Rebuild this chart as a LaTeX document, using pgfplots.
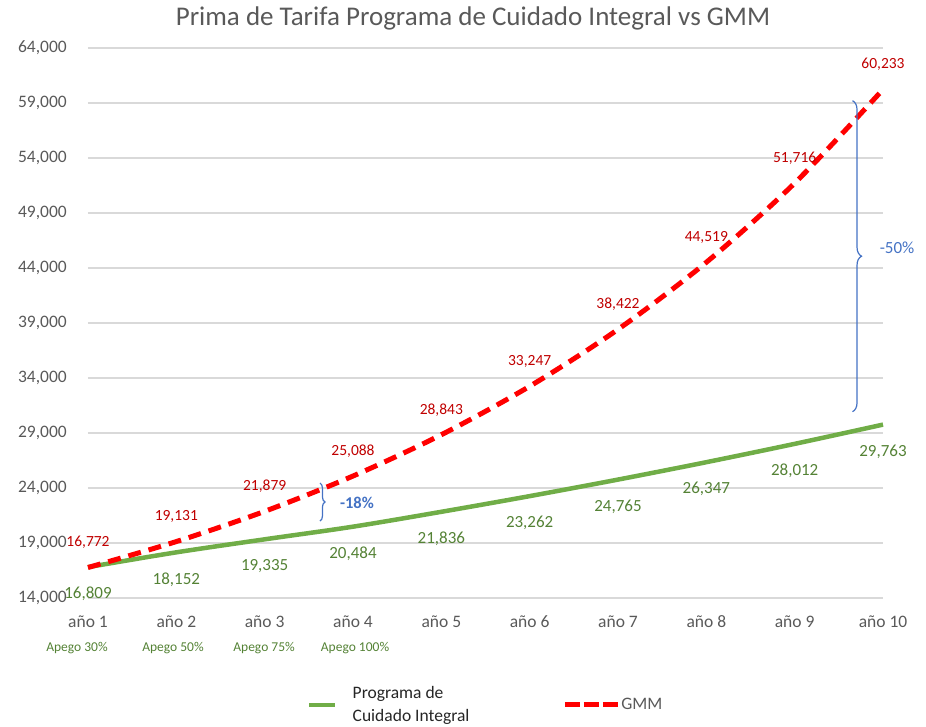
\documentclass[border=0pt]{standalone}
\usepackage{pgfplots}
\pgfplotsset{compat=1.18}
\usepackage{fontspec}
\setmainfont{Carlito}
\usetikzlibrary{decorations.pathreplacing}
\definecolor{gridgray}{HTML}{D9D9D9}
\definecolor{txtgray}{HTML}{595959}
\definecolor{darkgray}{HTML}{262626}
\definecolor{gmmred}{HTML}{FF0000}
\definecolor{lblred}{HTML}{C00000}
\definecolor{pcigreen}{HTML}{70AD47}
\definecolor{lblgreen}{HTML}{548235}
\definecolor{brblue}{HTML}{4472C4}
\pgfplotsset{
  legshort/.style={legend image code/.code={\draw[##1] (0pt,0pt) -- (26pt,0pt);}},
  leglong/.style={legend image code/.code={\draw[##1, dash pattern=on 15pt off 4pt] (0pt,0pt) -- (53pt,0pt);}},
}
\begin{document}
\begin{tikzpicture}[x=1pt,y=1pt]
\path[use as bounding box] (-88,-128) rectangle (838,598);
\begin{axis}[
  at={(0,0)}, anchor=south west,
  scale only axis, width=795pt, height=550pt,
  xmin=1, xmax=10, ymin=14000, ymax=64000,
  axis line style={draw=none},
  xtick={1,2,3,4,5,6,7,8,9,10},
  xticklabels={año 1,año 2,año 3,año 4,año 5,año 6,año 7,año 8,año 9,año 10},
  ytick={14000,19000,24000,29000,34000,39000,44000,49000,54000,59000,64000},
  scaled y ticks=false,
  yticklabel={\pgfmathprintnumber[assume math mode=true,1000 sep={,}]{\tick}},
  major tick length=0pt,
  ymajorgrids, grid style={gridgray, line width=1.1pt},
  tick label style={font=\fontsize{17.5}{20}\selectfont, text=txtgray},
  xticklabel style={anchor=center, yshift=-24pt},
  yticklabel style={anchor=east, inner sep=0pt, xshift=-21pt},
  clip=false,
  legend style={at={(axis description cs:0.2755,-0.1945)}, anchor=west,
    draw=none, fill=none, inner sep=0pt, legend columns=2,
    nodes={inner sep=0pt, align=left, font=\fontsize{17.5}{23}\selectfont},
    column sep=0pt,
    /tikz/column 1/.style={column sep=15pt},
    /tikz/column 2/.style={column sep=93pt},
    /tikz/column 3/.style={column sep=1pt}},
  legend cell align=left,
]
\addplot[pcigreen, line width=4.5pt, smooth, legshort,
  nodes near coords={\pgfmathprintnumber[assume math mode=true,1000 sep={,}]{\pgfplotspointmeta}},
  every node near coord/.append style={anchor=center, yshift=-27pt, text=lblgreen, font=\fontsize{17}{20}\selectfont}]
  coordinates {(1,16809) (2,18152) (3,19335) (4,20484) (5,21836) (6,23262) (7,24765) (8,26347) (9,28012) (10,29763)};
\addlegendentry[text=darkgray]{Programa de\\Cuidado Integral}
\addplot[gmmred, line width=5pt, smooth, dash pattern=on 13pt off 8pt, leglong,
  nodes near coords={\pgfmathprintnumber[assume math mode=true,1000 sep={,}]{\pgfplotspointmeta}},
  every node near coord/.append style={anchor=center, yshift=25pt, text=lblred, font=\fontsize{15.5}{18}\selectfont}]
  coordinates {(1,16772) (2,19131) (3,21879) (4,25088) (5,28843) (6,33247) (7,38422) (8,44519) (9,51716) (10,60233)};
\addlegendentry[text=txtgray]{GMM}
% brackets
\draw[brblue, line width=1.2pt, decorate, decoration={brace, amplitude=5pt}]
  (axis cs:3.626,24450) -- (axis cs:3.626,21000);
\node[text=brblue, font=\bfseries\fontsize{16.5}{18}\selectfont] at (axis cs:4.045,22636) {-18\%};
\draw[brblue, line width=1.2pt, decorate, decoration={brace, amplitude=9pt}]
  (axis cs:9.655,59210) -- (axis cs:9.655,30936);
\node[text=brblue, font=\fontsize{17}{18}\selectfont] at (axis cs:10.159,45818) {-50\%};
% adherence notes
\node[text=lblgreen, font=\fontsize{13.5}{15}\selectfont] at (axis cs:0.875,9455) {Apego 30\%};
\node[text=lblgreen, font=\fontsize{13.5}{15}\selectfont] at (axis cs:1.962,9455) {Apego 50\%};
\node[text=lblgreen, font=\fontsize{13.5}{15}\selectfont] at (axis cs:2.993,9455) {Apego 75\%};
\node[text=lblgreen, font=\fontsize{13.5}{15}\selectfont] at (axis cs:4.023,9455) {Apego 100\%};
\end{axis}
\node[font=\fontsize{27}{30}\selectfont, text=txtgray] at (385,580) {Prima de Tarifa Programa de Cuidado Integral vs GMM};
\end{tikzpicture}
\end{document}
